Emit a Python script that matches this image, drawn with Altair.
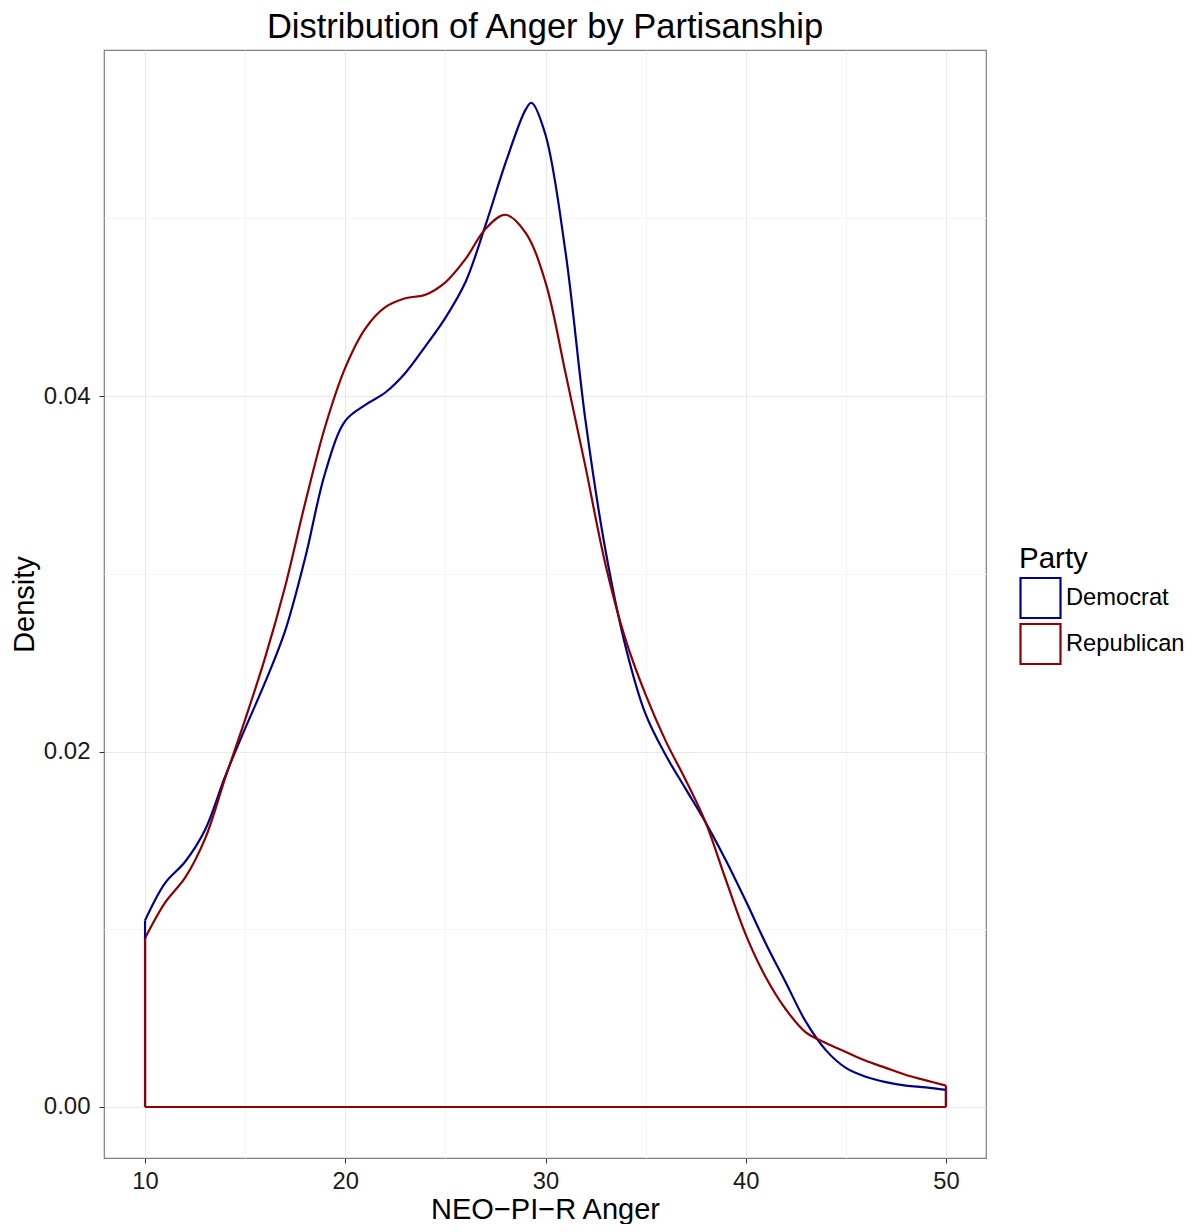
import altair as alt
import pandas as pd

# ---- data ----
dem_x = [10, 11, 12, 13, 14, 15, 16, 17, 18, 19, 20, 21, 22, 23, 24, 25, 26, 27, 28, 29, 29.3,
         30, 31, 32, 33, 34, 35, 36, 37, 38, 39, 40, 41, 42, 43, 44, 45, 46, 47, 48, 49, 50]
dem_y = [0.0105, 0.0126, 0.0138, 0.0156, 0.0186, 0.0213, 0.0239, 0.0268, 0.0309, 0.0357, 0.0386,
         0.0395, 0.0402, 0.0413, 0.0428, 0.0444, 0.0464, 0.0496, 0.0531, 0.0561, 0.0565,
         0.0547, 0.0481, 0.0386, 0.0313, 0.0259, 0.0221, 0.0198, 0.0179, 0.0160, 0.0139,
         0.0116, 0.0092, 0.0070, 0.0048, 0.0032, 0.0022, 0.0017, 0.0014, 0.0012, 0.0011, 0.00096]

rep_x = [10, 11, 12, 13, 14, 15, 16, 17, 18, 19, 20, 21, 22, 23, 24, 25, 26, 27, 28,
         29, 30, 31, 32, 33, 34, 35, 36, 37, 38, 39, 40, 41, 42, 43, 44, 45, 46, 47, 48, 49, 50]
rep_y = [0.0095, 0.0115, 0.0129, 0.0151, 0.0185, 0.0218, 0.0253, 0.0293, 0.0340, 0.0383, 0.0416,
         0.0438, 0.0450, 0.0455, 0.0457, 0.0464, 0.0477, 0.0494, 0.0502,
         0.0492, 0.0464, 0.0413, 0.0360, 0.0305, 0.0263, 0.0232, 0.0206, 0.0184, 0.0160, 0.0128,
         0.0097, 0.0073, 0.0055, 0.0042, 0.0036, 0.0031, 0.0026, 0.0022, 0.0018, 0.0015, 0.0012]

parties = ["Democrat", "Republican"]
colors = ["#00008b", "#8b0000"]
x_ticks = [10, 15, 20, 25, 30, 35, 40, 45, 50]
y_ticks = [0.0, 0.01, 0.02, 0.03, 0.04, 0.05]

# ---- tables ----
curve = pd.concat([
    pd.DataFrame({"x": dem_x, "y": dem_y, "Party": "Democrat", "i": range(len(dem_x))}),
    pd.DataFrame({"x": rep_x, "y": rep_y, "Party": "Republican", "i": range(len(rep_x))}),
])

edges = []
for p, xs, ys in [("Democrat", dem_x, dem_y), ("Republican", rep_x, rep_y)]:
    edges.append({"Party": p, "x": xs[0], "x2": xs[0], "y": 0.0, "y2": ys[0]})
    edges.append({"Party": p, "x": xs[-1], "x2": xs[-1], "y": 0.0, "y2": ys[-1]})
    edges.append({"Party": p, "x": xs[0], "x2": xs[-1], "y": 0.0, "y2": 0.0})
edges = pd.DataFrame(edges)

FONT = "Liberation Sans"

color_enc = alt.Color(
    "Party:N",
    scale=alt.Scale(domain=parties, range=colors),
    legend=alt.Legend(
        title="Party", orient="none", legendX=915, legendY=495,
        symbolType="square", symbolSize=1600, symbolStrokeWidth=2.2,
        symbolFillColor="white", symbolOpacity=1,
        titleFontSize=29.5, titleFont=FONT, titleFontWeight="normal", titleColor="black",
        labelFontSize=23.7, labelFont=FONT, labelColor="black",
        rowPadding=-7, labelOffset=4, titlePadding=2,
    ),
)

xscale = alt.Scale(domain=[7.95, 52.0], nice=False, zero=False)
yscale = alt.Scale(domain=[-0.00287, 0.05947], nice=False, zero=False)

XMINOR = "datum.value % 10 !== 0"
YMINOR = "round(datum.value * 100) % 2 !== 0"

xaxis = alt.Axis(
    title="NEO\u2212PI\u2212R Anger", values=x_ticks,
    labelExpr="datum.value % 10 === 0 ? datum.label : ''",
    tickColor={"condition": {"test": XMINOR, "value": "transparent"}, "value": "#333333"},
    gridColor={"condition": {"test": XMINOR, "value": "#f5f5f5"}, "value": "#e8e8e8"},
    grid=True, domain=False, tickSize=5, labelPadding=6, titlePadding=3,
    labelFontSize=23.7, titleFontSize=29, labelFont=FONT, titleFont=FONT,
    labelColor="#1a1a1a", titleColor="black", titleFontWeight="normal",
)
yaxis = alt.Axis(
    title="Density", values=y_ticks, format=".2f",
    labelExpr="round(datum.value * 100) % 2 === 0 ? datum.label : ''",
    tickColor={"condition": {"test": YMINOR, "value": "transparent"}, "value": "#333333"},
    gridColor={"condition": {"test": YMINOR, "value": "#f5f5f5"}, "value": "#e8e8e8"},
    grid=True, domain=False, tickSize=5, labelPadding=9, titlePadding=4,
    labelFontSize=24, titleFontSize=29, labelFont=FONT, titleFont=FONT,
    labelColor="#1a1a1a", titleColor="black", titleFontWeight="normal",
)

lines = alt.Chart(curve).mark_line(strokeWidth=2.2, interpolate="catmull-rom").encode(
    x=alt.X("x:Q", scale=xscale, axis=xaxis),
    y=alt.Y("y:Q", scale=yscale, axis=yaxis),
    color=color_enc,
    order="i:Q",
)

rules = alt.Chart(edges).mark_rule(strokeWidth=2.2).encode(
    x=alt.X("x:Q", scale=xscale),
    x2="x2:Q",
    y=alt.Y("y:Q", scale=yscale),
    y2="y2:Q",
    color=alt.Color("Party:N", scale=alt.Scale(domain=parties, range=colors)),
)

chart = alt.layer(lines, rules).properties(
    width=882, height=1108,
    title=alt.TitleParams("Distribution of Anger by Partisanship", fontSize=34.5, font=FONT,
                          fontWeight="normal", color="black", anchor="middle", offset=5),
    autosize=alt.AutoSizeParams(type="none"),
    padding={"left": 96, "top": 42, "right": 205, "bottom": 66},
    background="white",
).configure_view(stroke="#7f7f7f", strokeWidth=1.2)

chart.save("out.html", embed_options={"renderer": "svg", "actions": False})
